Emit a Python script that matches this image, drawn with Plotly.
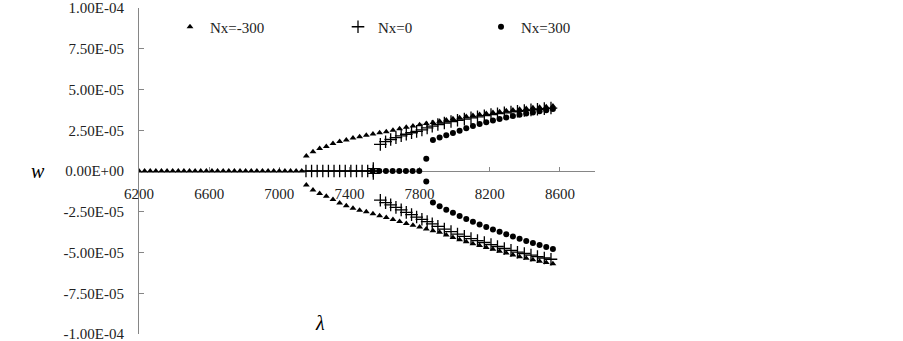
import plotly.graph_objects as go

# ---------------- data ----------------
# Nx = -300 : trivial branch (w = 0)
lam_m300_zero = [6200, 6232, 6264, 6296, 6328, 6360, 6392, 6424, 6456, 6488,
                 6520, 6552, 6584, 6616, 6648, 6680, 6712, 6744, 6776, 6808,
                 6840, 6872, 6904, 6936, 6968, 7000, 7032, 7064, 7096, 7128]
w_m300_zero = [0.0, 0.0, 0.0, 0.0, 0.0, 0.0, 0.0, 0.0, 0.0, 0.0,
               0.0, 0.0, 0.0, 0.0, 0.0, 0.0, 0.0, 0.0, 0.0, 0.0,
               0.0, 0.0, 0.0, 0.0, 0.0, 0.0, 0.0, 0.0, 0.0, 0.0]
# Nx = -300 : post-buckling branches
lam_m300_branch = [7154, 7192, 7230, 7268, 7306, 7344, 7382, 7420, 7458, 7496,
                   7534, 7572, 7610, 7648, 7686, 7724, 7762, 7800, 7838, 7876,
                   7914, 7952, 7990, 8028, 8066, 8104, 8142, 8180, 8218, 8256,
                   8294, 8332, 8370, 8408, 8446, 8484, 8522, 8560]
w_m300_upper = [9.17e-6, 1.180e-5, 1.387e-5, 1.497e-5, 1.681e-5, 1.815e-5, 1.895e-5, 2.017e-5,
                2.096e-5, 2.188e-5, 2.274e-5, 2.347e-5, 2.414e-5, 2.494e-5, 2.598e-5, 2.677e-5,
                2.757e-5, 2.836e-5, 2.909e-5, 2.983e-5, 3.056e-5, 3.129e-5, 3.203e-5, 3.270e-5,
                3.337e-5, 3.404e-5, 3.466e-5, 3.527e-5, 3.582e-5, 3.637e-5, 3.692e-5, 3.741e-5,
                3.789e-5, 3.832e-5, 3.875e-5, 3.912e-5, 3.948e-5, 3.985e-5]
w_m300_lower = [-8.56e-6, -1.161e-5, -1.375e-5, -1.546e-5, -1.742e-5, -1.956e-5, -2.139e-5, -2.292e-5,
                -2.402e-5, -2.506e-5, -2.628e-5, -2.750e-5, -2.860e-5, -2.983e-5, -3.099e-5, -3.215e-5,
                -3.331e-5, -3.441e-5, -3.551e-5, -3.667e-5, -3.765e-5, -3.924e-5, -4.077e-5, -4.217e-5,
                -4.340e-5, -4.456e-5, -4.572e-5, -4.688e-5, -4.804e-5, -4.920e-5, -5.036e-5, -5.146e-5,
                -5.256e-5, -5.354e-5, -5.446e-5, -5.531e-5, -5.611e-5, -5.690e-5]

# Nx = 0 : trivial branch and bifurcation point
lam_0_zero = [7152, 7184, 7216, 7248, 7280, 7312, 7344, 7376, 7408, 7440, 7472, 7504, 7536, 7536, 7536]
w_0_zero = [0.0, 0.0, 0.0, 0.0, 0.0, 0.0, 0.0, 0.0, 0.0, 0.0, 0.0, 0.0, 0.0, 1.5e-6, -1.5e-6]
# Nx = 0 : post-buckling branches
lam_0_branch = [7576, 7606, 7635, 7665, 7695, 7724, 7754, 7783, 7813, 7843,
                7872, 7904, 7941, 7979, 8016, 8055, 8093, 8130, 8169, 8207,
                8244, 8283, 8321, 8358, 8397, 8435, 8472, 8511, 8549]
w_0_upper = [1.632e-5, 1.797e-5, 1.931e-5, 2.048e-5, 2.158e-5, 2.255e-5, 2.347e-5, 2.433e-5,
             2.518e-5, 2.640e-5, 2.750e-5, 2.854e-5, 2.946e-5, 3.038e-5, 3.111e-5, 3.184e-5,
             3.258e-5, 3.325e-5, 3.392e-5, 3.459e-5, 3.514e-5, 3.569e-5, 3.624e-5, 3.667e-5,
             3.710e-5, 3.753e-5, 3.789e-5, 3.826e-5, 3.863e-5]
w_0_lower = [-1.791e-5, -1.944e-5, -2.078e-5, -2.231e-5, -2.384e-5, -2.536e-5, -2.677e-5, -2.824e-5,
             -2.964e-5, -3.105e-5, -3.239e-5, -3.392e-5, -3.563e-5, -3.716e-5, -3.869e-5, -4.009e-5,
             -4.144e-5, -4.266e-5, -4.388e-5, -4.511e-5, -4.633e-5, -4.755e-5, -4.871e-5, -4.981e-5,
             -5.061e-5, -5.159e-5, -5.250e-5, -5.336e-5, -5.415e-5]

# Nx = 300 : trivial branch and bifurcation point
lam_300_zero = [7532, 7570, 7608, 7646, 7684, 7722, 7760, 7798, 7838, 7838]
w_300_zero = [0.0, 0.0, 0.0, 0.0, 0.0, 0.0, 0.0, 0.0, 7.5e-6, -6.5e-6]
# Nx = 300 : post-buckling branches
lam_300_branch = [7876, 7914, 7952, 7990, 8028, 8066, 8104, 8142, 8180, 8218,
                  8256, 8294, 8332, 8370, 8408, 8446, 8484, 8522, 8560]
w_300_upper = [1.895e-5, 2.048e-5, 2.188e-5, 2.335e-5, 2.475e-5, 2.628e-5, 2.763e-5, 2.891e-5,
               2.995e-5, 3.099e-5, 3.197e-5, 3.288e-5, 3.368e-5, 3.447e-5, 3.521e-5, 3.594e-5,
               3.667e-5, 3.734e-5, 3.802e-5]
w_300_lower = [-1.938e-5, -2.158e-5, -2.371e-5, -2.567e-5, -2.763e-5, -2.946e-5, -3.117e-5, -3.282e-5,
               -3.435e-5, -3.588e-5, -3.734e-5, -3.881e-5, -4.022e-5, -4.156e-5, -4.291e-5, -4.419e-5,
               -4.547e-5, -4.670e-5, -4.786e-5]

x_ticks = [6200, 6600, 7000, 7400, 7800, 8200, 8600]
y_ticks = [1.0e-4, 7.5e-5, 5.0e-5, 2.5e-5, 0.0, -2.5e-5, -5.0e-5, -7.5e-5, -1.0e-4]
y_tick_labels = ["1.00E-04", "7.50E-05", "5.00E-05", "2.50E-05", "0.00E+00",
                 "-2.50E-05", "-5.00E-05", "-7.50E-05", "-1.00E-04"]
series_names = ["Nx=-300", "Nx=0", "Nx=300"]

# ---------------- figure ----------------
FONT = "Liberation Serif"
fig = go.Figure()

fig.add_trace(go.Scatter(
    x=lam_m300_zero + lam_m300_branch + lam_m300_branch,
    y=w_m300_zero + w_m300_upper + w_m300_lower,
    mode="markers", name=series_names[0], legend="legend",
    marker=dict(symbol="triangle-up", size=6, color="black")))

fig.add_trace(go.Scatter(
    x=lam_0_zero + lam_0_branch + lam_0_branch,
    y=w_0_zero + w_0_upper + w_0_lower,
    mode="markers", name=series_names[1], legend="legend2",
    marker=dict(symbol="cross-thin", size=9, color="black",
                line=dict(width=1.3, color="black"))))

fig.add_trace(go.Scatter(
    x=lam_300_zero + lam_300_branch + lam_300_branch,
    y=w_300_zero + w_300_upper + w_300_lower,
    mode="markers", name=series_names[2], legend="legend3",
    marker=dict(symbol="circle", size=6, color="black")))

PL, PR, PT, PB = 139, 308, 8, 7
W, H = 903, 341
pw = W - PL - PR
ph = H - PT - PB

def px_to_paper_x(px):
    return (px - PL) / pw

def px_to_paper_y(py):
    return (H - PB - py) / ph

legend_common = dict(orientation="h", yanchor="middle", xanchor="left",
                     bgcolor="rgba(0,0,0,0)", borderwidth=0, itemwidth=30,
                     font=dict(family=FONT, size=15, color="#222"))

fig.update_layout(
    width=W, height=H,
    margin=dict(l=PL, r=PR, t=PT, b=PB, autoexpand=False),
    paper_bgcolor="white", plot_bgcolor="white",
    showlegend=True,
    legend=dict(x=px_to_paper_x(170), y=px_to_paper_y(27), **legend_common),
    legend2=dict(x=px_to_paper_x(338), y=px_to_paper_y(27), **legend_common),
    legend3=dict(x=px_to_paper_x(481), y=px_to_paper_y(27), **legend_common),
    xaxis=dict(range=[6200, 8800], tickvals=x_ticks, ticks="inside", ticklen=4,
               tickcolor="#868686", showline=True, linecolor="#868686", linewidth=1,
               showgrid=False, zeroline=False, anchor="free", position=0.5,
               ticklabelstandoff=9, automargin=False, layer="below traces",
               tickfont=dict(family=FONT, size=15, color="#222")),
    yaxis=dict(range=[-1.0e-4, 1.0e-4], tickvals=y_ticks, ticktext=y_tick_labels,
               ticks="inside", ticklen=5, tickcolor="#868686",
               showline=True, linecolor="#868686", linewidth=1,
               showgrid=False, zeroline=False, ticklabelstandoff=11, automargin=False,
               ticklabeloverflow="allow", layer="below traces",
               tickfont=dict(family=FONT, size=15, color="#222")),
    annotations=[
        dict(text="<i>w</i>", x=px_to_paper_x(38), y=0.5, xref="paper", yref="paper",
             showarrow=False, xanchor="center", yanchor="middle",
             font=dict(family=FONT, size=20, color="black")),
        dict(text="<i>λ</i>", x=px_to_paper_x(320), y=px_to_paper_y(323), xref="paper", yref="paper",
             showarrow=False, xanchor="center", yanchor="middle",
             font=dict(family=FONT, size=20, color="black")),
    ],
)

fig.write_html("out.html",
               config={"displayModeBar": False},
               post_script="document.body.style.margin='0';document.body.style.padding='0';")
